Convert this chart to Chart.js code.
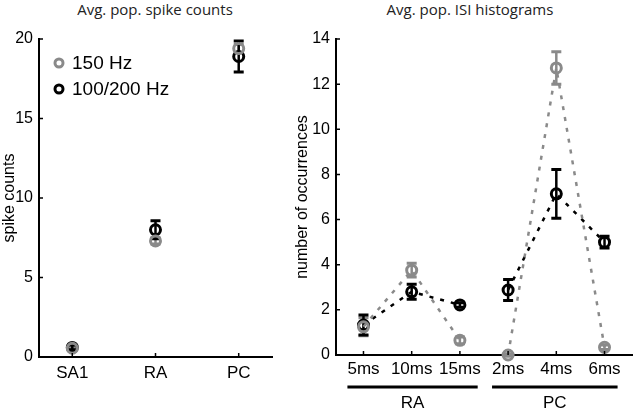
<!DOCTYPE html>
<html>
<head>
<meta charset="utf-8">
<script src="https://cdn.jsdelivr.net/npm/chart.js@4/dist/chart.umd.min.js"></script>
<style>
body { margin: 0; background: #fff; width: 640px; height: 408px; position: relative; overflow: hidden; }
.box { position: absolute; top: 0; height: 408px; }
.ttl { position: absolute; top: -1px; font-family: "Open Sans", sans-serif; font-size: 15px; color: #222; white-space: nowrap; transform: translateX(-50%); }
</style>
</head>
<body>
<div class="ttl" style="left:155px">Avg. pop. spike counts</div>
<div class="ttl" style="left:470px">Avg. pop. ISI histograms</div>
<div class="box" style="left:0;width:280px"><canvas id="countChart"></canvas></div>
<div class="box" style="left:280px;width:360px"><canvas id="isiChart"></canvas></div>
<script>
// left panel: spike counts per afferent class
const cells = ['SA1', 'RA', 'PC'];
const count150 = [0.55, 7.3, 19.4];
const count150Err = [0.1, 0.2, 0.25];
const count200 = [0.6, 8.0, 18.9];
const count200Err = [0.15, 0.57, 0.98];

// right panel: ISI histogram bins
const isiLabels = ['5ms', '10ms', '15ms', '2ms', '4ms', '6ms'];
const isiGroups = ['RA', 'RA', 'RA', 'PC', 'PC', 'PC'];
const isi150 = [1.25, 3.76, 0.65, 0.0, 12.72, 0.34];
const isi150Err = [0.4, 0.3, 0.15, 0.05, 0.72, 0.1];
const isi200 = [1.33, 2.8, 2.22, 2.88, 7.14, 5.0];
const isi200Err = [0.44, 0.33, 0.1, 0.47, 1.08, 0.26];

const seriesNames = ['150 Hz', '100/200 Hz'];
const GRAY = '#8a8a8a';
const BLACK = '#000';
const FONT = '"Liberation Sans", Arial, sans-serif';

// x positions are 1..n, a null point breaks the line between groups
function toPoints(values, groups) {
    const out = [];
    values.forEach((v, i) => {
        if (groups && i > 0 && groups[i] !== groups[i - 1]) out.push({ x: i + 0.5, y: null });
        out.push({ x: i + 1, y: v });
    });
    return out;
}

function pointDataset(label, values, color, groups) {
    return {
        label: label,
        data: toPoints(values, groups),
        borderColor: color,
        backgroundColor: 'rgba(0,0,0,0)',
        pointRadius: 5,
        pointBorderWidth: 3,
        pointHoverRadius: 5,
        showLine: !!groups,
        borderWidth: 2.5,
        borderDash: [4, 7],
        spanGaps: false,
        clip: false,
    };
}

// error bars from the value/err arrays
const errorBars = {
    id: 'errorBars',
    beforeDatasetsDraw(chart, args, opts) {
        const { ctx, scales: { x, y } } = chart;
        ctx.save();
        opts.series.forEach(s => {
            ctx.strokeStyle = s.color;
            s.values.forEach((v, i) => {
                const px = x.getPixelForValue(i + 1);
                const top = y.getPixelForValue(v + s.errs[i]);
                const bot = y.getPixelForValue(v - s.errs[i]);
                ctx.lineWidth = 2.5;
                ctx.beginPath();
                ctx.moveTo(px, top); ctx.lineTo(px, bot);
                ctx.stroke();
                ctx.lineWidth = 3;
                ctx.beginPath();
                ctx.moveTo(px - 5, top); ctx.lineTo(px + 5, top);
                ctx.moveTo(px - 5, bot); ctx.lineTo(px + 5, bot);
                ctx.stroke();
            });
        });
        ctx.restore();
    }
};

// matlab style ticks pointing into the plot
const innerTicks = {
    id: 'innerTicks',
    afterDraw(chart) {
        const { ctx, scales: { x, y }, chartArea } = chart;
        ctx.save();
        ctx.strokeStyle = '#000';
        ctx.lineWidth = 1.5;
        ctx.beginPath();
        y.ticks.forEach(t => {
            const py = y.getPixelForValue(t.value);
            ctx.moveTo(chartArea.left, py); ctx.lineTo(chartArea.left + 4, py);
        });
        x.ticks.forEach(t => {
            const px = x.getPixelForValue(t.value);
            ctx.moveTo(px, chartArea.bottom); ctx.lineTo(px, chartArea.bottom - 4);
        });
        ctx.stroke();
        ctx.restore();
    }
};

const legendInside = {
    id: 'legendInside',
    afterDraw(chart) {
        const { ctx } = chart;
        ctx.save();
        ctx.font = '19px ' + FONT;
        ctx.textBaseline = 'middle';
        [GRAY, BLACK].forEach((c, i) => {
            const cy = 63 + i * 26;
            ctx.strokeStyle = c;
            ctx.lineWidth = 3;
            ctx.beginPath();
            ctx.arc(59, cy, 4, 0, Math.PI * 2);
            ctx.stroke();
            ctx.fillStyle = '#000';
            ctx.fillText(seriesNames[i], 72, cy + 1);
        });
        ctx.restore();
    }
};

// bars + group names under the ISI tick labels
const groupBars = {
    id: 'groupBars',
    afterDraw(chart) {
        const { ctx, scales: { x } } = chart;
        ctx.save();
        ctx.font = '17px ' + FONT;
        const groups = [...new Set(isiGroups)];
        groups.forEach(g => {
            const idx = isiGroups.map((v, i) => v === g ? i : -1).filter(i => i >= 0);
            const first = idx[0], last = idx[idx.length - 1];
            const x0 = x.getPixelForValue(first + 1) - ctx.measureText(isiLabels[first]).width / 2;
            const x1 = x.getPixelForValue(last + 1) + ctx.measureText(isiLabels[last]).width / 2 - 3;
            ctx.strokeStyle = '#000';
            ctx.lineWidth = 3;
            ctx.beginPath();
            ctx.moveTo(x0, 387); ctx.lineTo(x1, 387);
            ctx.stroke();
            ctx.fillStyle = '#000';
            ctx.textAlign = 'center';
            ctx.textBaseline = 'alphabetic';
            ctx.fillText(g, (x0 + x1) / 2, 408);
        });
        ctx.restore();
    }
};

function axes(labels, xmin, xmax, ymax, step, title, yWidth, xHeight, tickPad) {
    return {
        x: {
            type: 'linear', min: xmin, max: xmax,
            afterBuildTicks: s => { s.ticks = labels.map((_, i) => ({ value: i + 1 })); },
            afterFit: s => { s.height = xHeight; },
            ticks: {
                color: '#000', font: { family: FONT, size: 17 }, padding: tickPad,
                autoSkip: false, maxRotation: 0,
                callback: v => labels[Math.round(v) - 1],
            },
            grid: { display: true, drawOnChartArea: false, drawTicks: false },
            border: { display: true, color: '#000', width: 2 },
        },
        y: {
            min: 0, max: ymax,
            afterFit: s => { s.width = yWidth; },
            ticks: { stepSize: step, color: '#000', font: { family: FONT, size: 16 }, padding: 6 },
            grid: { display: true, drawOnChartArea: false, drawTicks: false },
            border: { display: true, color: '#000', width: 2 },
            title: { display: true, text: title, color: '#000', font: { family: FONT, size: 16 },
                     padding: { top: yWidth > 40 ? 13 : 0, bottom: 0 } },
        },
    };
}

const baseOpts = {
    responsive: true,
    maintainAspectRatio: false,
    animation: false,
    events: [],
};

new Chart(document.getElementById('countChart'), {
    type: 'scatter',
    data: {
        datasets: [
            pointDataset(seriesNames[0], count150, GRAY),
            pointDataset(seriesNames[1], count200, BLACK),
        ],
    },
    options: Object.assign({}, baseOpts, {
        layout: { padding: { top: 39, right: 5, left: 0, bottom: 0 } },
        scales: axes(cells, 0.6, 3.4, 20, 5, 'spike counts', 39, 51, 6),
        plugins: {
            legend: { display: false },
            tooltip: { enabled: false },
            errorBars: { series: [
                { values: count150, errs: count150Err, color: GRAY },
                { values: count200, errs: count200Err, color: BLACK },
            ] },
        },
    }),
    plugins: [errorBars, innerTicks, legendInside],
});

new Chart(document.getElementById('isiChart'), {
    type: 'scatter',
    data: {
        datasets: [
            pointDataset(seriesNames[0], isi150, GRAY, isiGroups),
            pointDataset(seriesNames[1], isi200, BLACK, isiGroups),
        ],
    },
    options: Object.assign({}, baseOpts, {
        layout: { padding: { top: 39, right: 3, left: 0, bottom: 0 } },
        scales: axes(isiLabels, 0.43, 6.57, 14, 2, 'number of occurrences', 56, 53, 4),
        plugins: {
            legend: { display: false },
            tooltip: { enabled: false },
            errorBars: { series: [
                { values: isi150, errs: isi150Err, color: GRAY },
                { values: isi200, errs: isi200Err, color: BLACK },
            ] },
        },
    }),
    plugins: [errorBars, innerTicks, groupBars],
});
</script>
</body>
</html>
